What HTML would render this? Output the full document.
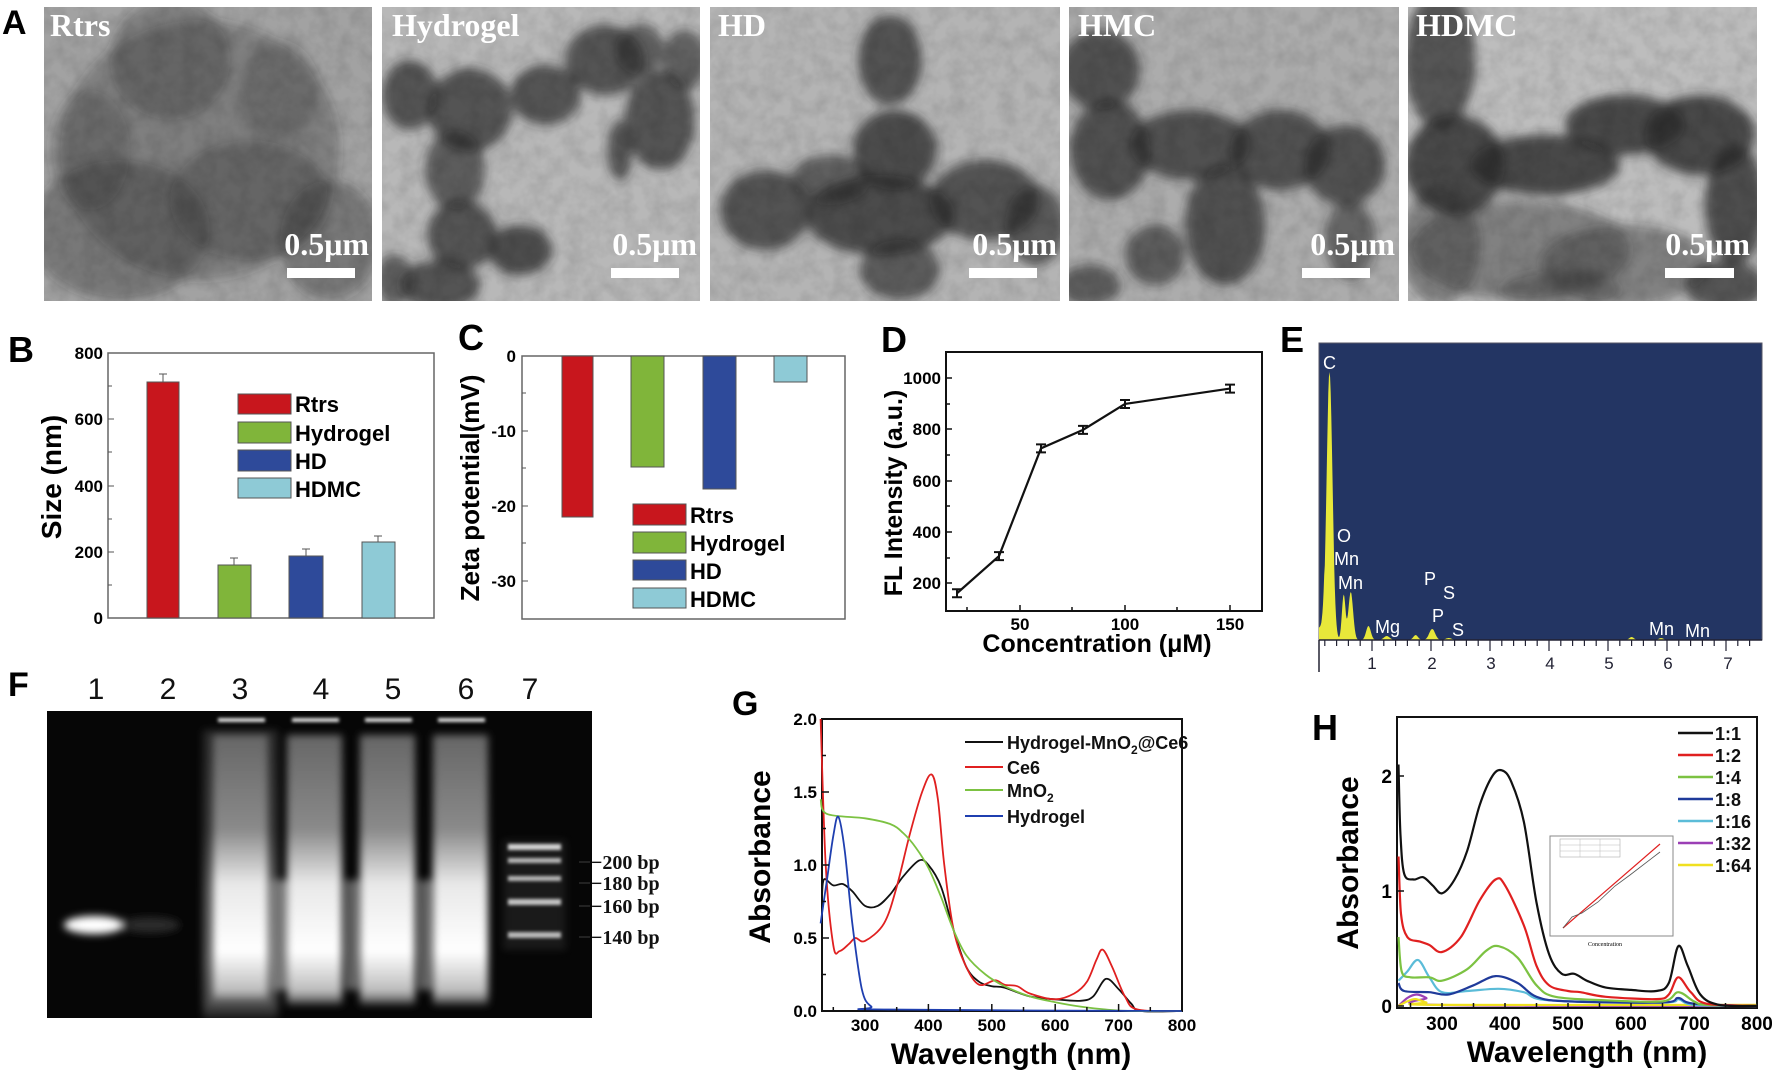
<!DOCTYPE html>
<html><head><meta charset="utf-8">
<style>
html,body{margin:0;padding:0;background:#fff;}
svg{display:block;}
.b{font-family:"Liberation Sans",sans-serif;font-weight:bold;}
.n{font-family:"Liberation Sans Narrow","Liberation Sans",sans-serif;font-weight:bold;}
.s{font-family:"Liberation Serif",serif;font-weight:bold;}
</style></head>
<body>
<svg id="c" width="1772" height="1075" viewBox="0 0 1772 1075" xmlns="http://www.w3.org/2000/svg">
<defs>
<filter id="bl" x="-20%" y="-20%" width="140%" height="140%"><feGaussianBlur stdDeviation="5"/></filter>
<filter id="bl2"><feGaussianBlur stdDeviation="4"/></filter>
<filter id="bl1"><feGaussianBlur stdDeviation="1.5"/></filter>
<filter id="noise" x="0" y="0" width="100%" height="100%">
<feTurbulence type="fractalNoise" baseFrequency="0.06" numOctaves="3" seed="4"/>
<feColorMatrix type="matrix" values="0 0 0 0 0  0 0 0 0 0  0 0 0 0 0  0 0 0 0.9 -0.3"/>
</filter>
<clipPath id="cA1"><rect x="44" y="7" width="328" height="294"/></clipPath>
<clipPath id="cA2"><rect x="382" y="7" width="318" height="294"/></clipPath>
<clipPath id="cA3"><rect x="710" y="7" width="350" height="294"/></clipPath>
<clipPath id="cA4"><rect x="1069" y="7" width="330" height="294"/></clipPath>
<clipPath id="cA5"><rect x="1408" y="7" width="349" height="294"/></clipPath>
<clipPath id="cGel"><rect x="47" y="711" width="545" height="307"/></clipPath>
<linearGradient id="lane" x1="0" y1="0" x2="0" y2="1">
<stop offset="0" stop-color="#666"/><stop offset="0.35" stop-color="#8a8a8a"/>
<stop offset="0.55" stop-color="#e8e8e8"/><stop offset="0.8" stop-color="#fff"/>
<stop offset="0.95" stop-color="#bbb"/><stop offset="1" stop-color="#333"/></linearGradient>
</defs>
<rect width="1772" height="1075" fill="#fff"/>
<g id="tem"></g>
<g class="s" fill="#fff" font-size="32">
<text x="50" y="36">Rtrs</text>
<text x="392" y="36">Hydrogel</text>
<text x="718" y="36">HD</text>
<text x="1078" y="36">HMC</text>
<text x="1416" y="36">HDMC</text>
<g text-anchor="end"><text x="369" y="255">0.5μm</text><text x="697" y="255">0.5μm</text><text x="1057" y="255">0.5μm</text><text x="1395" y="255">0.5μm</text><text x="1750" y="255">0.5μm</text></g>
</g>
<g fill="#fff"><rect x="287" y="268" width="68" height="10"/><rect x="611" y="268" width="68" height="10"/><rect x="969" y="268" width="68" height="10"/><rect x="1302" y="268" width="68" height="10"/><rect x="1665" y="268" width="69" height="10"/></g>
<text class="b" x="2" y="34" font-size="34">A</text>

<!-- B -->
<text class="b" x="8" y="362" font-size="36">B</text>
<rect x="108" y="353" width="326" height="265" fill="none" stroke="#666" stroke-width="1.5"/>
<rect x="147" y="382" width="32" height="236" fill="#c8161d" stroke="#555"/>
<rect x="218" y="565" width="33" height="53" fill="#80b53a" stroke="#555"/>
<rect x="289" y="556" width="34" height="62" fill="#2e4a9a" stroke="#555"/>
<rect x="362" y="542" width="33" height="76" fill="#8ecad6" stroke="#555"/>
<g stroke="#555" stroke-width="1"><path d="M163 382V374M159 374H167M234 565V558M230 558H238M306 556V549M302 549H310M378 542V536M374 536H382"/>
<path d="M108 386H112M108 419H114M108 452H112M108 486H114M108 519H112M108 552H114M108 585H112"/></g>
<g class="n" font-size="17" text-anchor="end"><text x="103" y="359">800</text><text x="103" y="425">600</text><text x="103" y="492">400</text><text x="103" y="558">200</text><text x="103" y="624">0</text></g>
<text class="b" font-size="28" transform="translate(61,477) rotate(-90)" text-anchor="middle">Size (nm)</text>
<g stroke="#555"><rect x="238" y="394" width="53" height="20" fill="#c8161d"/><rect x="238" y="422" width="53" height="21" fill="#80b53a"/><rect x="238" y="450" width="53" height="21" fill="#2e4a9a"/><rect x="238" y="478" width="53" height="20" fill="#8ecad6"/></g>
<g class="n" font-size="22"><text x="295" y="412">Rtrs</text><text x="295" y="441">Hydrogel</text><text x="295" y="469">HD</text><text x="295" y="497">HDMC</text></g>

<!-- C -->
<text class="b" x="458" y="350" font-size="36">C</text>
<rect x="522" y="356" width="323" height="263" fill="none" stroke="#666" stroke-width="1.5"/>
<rect x="562" y="356" width="31" height="161" fill="#c8161d" stroke="#555"/>
<rect x="631" y="356" width="33" height="111" fill="#80b53a" stroke="#555"/>
<rect x="703" y="356" width="33" height="133" fill="#2e4a9a" stroke="#555"/>
<rect x="774" y="356" width="33" height="26" fill="#8ecad6" stroke="#555"/>
<g stroke="#555"><path d="M522 393H526M522 431H528M522 468H526M522 506H528M522 543H526M522 581H528"/></g>
<g class="n" font-size="17" text-anchor="end"><text x="516" y="362">0</text><text x="516" y="437">-10</text><text x="516" y="512">-20</text><text x="516" y="587">-30</text></g>
<text class="b" font-size="26" transform="translate(479,488) rotate(-90)" text-anchor="middle">Zeta potential(mV)</text>
<g stroke="#555"><rect x="633" y="504" width="53" height="21" fill="#c8161d"/><rect x="633" y="532" width="53" height="21" fill="#80b53a"/><rect x="633" y="560" width="53" height="20" fill="#2e4a9a"/><rect x="633" y="588" width="53" height="20" fill="#8ecad6"/></g>
<g class="n" font-size="22"><text x="690" y="523">Rtrs</text><text x="690" y="551">Hydrogel</text><text x="690" y="579">HD</text><text x="690" y="607">HDMC</text></g>

<!-- D -->
<text class="b" x="881" y="352" font-size="36">D</text>
<rect x="946" y="352" width="316" height="259" fill="none" stroke="#111" stroke-width="2"/>
<g stroke="#111" stroke-width="1.5"><path d="M946 378H952M946 404H950M946 429H952M946 455H950M946 481H952M946 506H950M946 532H952M946 558H950M946 583H952M1020 611V605M1072 611V607M1125 611V605M1177 611V607M1230 611V605M967 611V607"/></g>
<g class="n" font-size="17" text-anchor="end"><text x="941" y="384">1000</text><text x="941" y="435">800</text><text x="941" y="487">600</text><text x="941" y="538">400</text><text x="941" y="589">200</text></g>
<g class="n" font-size="17" text-anchor="middle"><text x="1020" y="630">50</text><text x="1125" y="630">100</text><text x="1230" y="630">150</text></g>
<text class="b" font-size="25" transform="translate(902,493) rotate(-90)" text-anchor="middle">FL Intensity (a.u.)</text>
<text class="b" font-size="25" x="1097" y="652" text-anchor="middle">Concentration (μM)</text>
<g id="dplot"></g>

<!-- E -->
<text class="b" x="1280" y="352" font-size="36">E</text>
<rect x="1319" y="343" width="443" height="297" fill="#233563" stroke="#556" stroke-width="1"/>
<path id="eds" fill="#e8e83a" d=""/>
<line x1="1319" y1="640" x2="1762" y2="640" stroke="#223" stroke-width="1.5"/>
<line x1="1319" y1="640" x2="1319" y2="672" stroke="#223" stroke-width="1.5"/>
<g id="eticks" stroke="#223" stroke-width="1.2"></g>
<g font-family="Liberation Sans,sans-serif" font-size="17" fill="#223" text-anchor="middle"><text x="1372" y="669">1</text><text x="1432" y="669">2</text><text x="1491" y="669">3</text><text x="1550" y="669">4</text><text x="1609" y="669">5</text><text x="1668" y="669">6</text><text x="1728" y="669">7</text></g>
<g font-family="Liberation Sans,sans-serif" font-size="18" fill="#fff"><text x="1323" y="369">C</text><text x="1337" y="542">O</text><text x="1334" y="565">Mn</text><text x="1338" y="589">Mn</text><text x="1375" y="633">Mg</text><text x="1424" y="585">P</text><text x="1443" y="599">S</text><text x="1432" y="622">P</text><text x="1452" y="636">S</text><text x="1649" y="635">Mn</text><text x="1685" y="637">Mn</text></g>

<!-- F -->
<text class="b" x="8" y="696" font-size="34">F</text>
<g font-family="Liberation Sans,sans-serif" font-size="30" fill="#111" text-anchor="middle"><text x="96" y="699">1</text><text x="168" y="699">2</text><text x="240" y="699">3</text><text x="321" y="699">4</text><text x="393" y="699">5</text><text x="466" y="699">6</text><text x="530" y="699">7</text></g>
<rect x="47" y="711" width="545" height="307" fill="#060606"/>
<g clip-path="url(#cGel)">
<g filter="url(#bl2)">
<rect x="203" y="730" width="75" height="290" fill="url(#lane)" opacity="0.35"/>
<rect x="213" y="735" width="55" height="270" fill="url(#lane)"/>
<rect x="287" y="735" width="55" height="270" fill="url(#lane)"/>
<rect x="360" y="735" width="55" height="270" fill="url(#lane)"/>
<rect x="433" y="735" width="55" height="270" fill="url(#lane)"/>
<rect x="272" y="880" width="14" height="110" fill="#777"/><rect x="346" y="880" width="12" height="110" fill="#666"/><rect x="419" y="880" width="12" height="110" fill="#666"/>
<ellipse cx="94" cy="925" rx="30" ry="9" fill="#fff"/>
<ellipse cx="150" cy="925" rx="30" ry="8" fill="#2a2a2a"/>
</g>
<g fill="#ddd" filter="url(#bl1)"><rect x="218" y="718" width="47" height="4"/><rect x="292" y="718" width="47" height="4"/><rect x="365" y="718" width="47" height="4"/><rect x="438" y="718" width="47" height="4"/>
<rect x="508" y="844" width="53" height="6" fill="#fff"/><rect x="508" y="858" width="53" height="5"/><rect x="508" y="876" width="53" height="5"/><rect x="508" y="899" width="53" height="6" fill="#eee"/><rect x="508" y="932" width="53" height="6"/></g>
<rect x="503" y="840" width="63" height="110" fill="#555" opacity="0.25" filter="url(#bl2)"/>
</g>
<g stroke="#222" stroke-width="2"><path d="M579 862H590M579 883H590M579 906H590M579 937H590"/></g>
<g class="s" font-size="20" fill="#111"><text x="591" y="869">−200 bp</text><text x="591" y="890">−180 bp</text><text x="591" y="913">−160 bp</text><text x="591" y="944">−140 bp</text></g>

<!-- G -->
<text class="b" x="732" y="715" font-size="34">G</text>
<rect x="822" y="719" width="360" height="292" fill="none" stroke="#111" stroke-width="2"/>
<g id="gplot"></g>
<g class="n" font-size="17" text-anchor="end"><text x="817" y="725">2.0</text><text x="817" y="798">1.5</text><text x="817" y="871">1.0</text><text x="817" y="944">0.5</text><text x="817" y="1017">0.0</text></g>
<g id="gxl" class="n" font-size="17" text-anchor="middle"></g>
<text class="b" font-size="30" transform="translate(770,857) rotate(-90)" text-anchor="middle">Absorbance</text>
<text class="b" font-size="30" x="1011" y="1064" text-anchor="middle">Wavelength (nm)</text>
<g stroke-width="2"><line x1="965" y1="742" x2="1003" y2="742" stroke="#111"/><line x1="965" y1="767" x2="1003" y2="767" stroke="#e02020"/><line x1="965" y1="790" x2="1003" y2="790" stroke="#7cc242"/><line x1="965" y1="816" x2="1003" y2="816" stroke="#1f3fb0"/></g>
<g class="n" font-size="18" fill="#111"><text x="1007" y="749">Hydrogel-MnO<tspan font-size="12" dy="5">2</tspan><tspan dy="-5">@Ce6</tspan></text><text x="1007" y="774">Ce6</text><text x="1007" y="797">MnO<tspan font-size="12" dy="5">2</tspan></text><text x="1007" y="823">Hydrogel</text></g>

<!-- H -->
<text class="b" x="1312" y="740" font-size="36">H</text>
<rect x="1397" y="717" width="360" height="291" fill="none" stroke="#111" stroke-width="2"/>
<g id="hplot"></g>
<g class="n" font-size="19" text-anchor="end"><text x="1392" y="783">2</text><text x="1392" y="898">1</text><text x="1392" y="1013">0</text></g>
<g id="hxl" class="n" font-size="19" text-anchor="middle"></g>
<text class="b" font-size="30" transform="translate(1358,863) rotate(-90)" text-anchor="middle">Absorbance</text>
<text class="b" font-size="30" x="1587" y="1062" text-anchor="middle">Wavelength (nm)</text>
<g stroke-width="2.5"><line x1="1678" y1="733" x2="1713" y2="733" stroke="#111"/><line x1="1678" y1="755" x2="1713" y2="755" stroke="#e02020"/><line x1="1678" y1="777" x2="1713" y2="777" stroke="#7cc242"/><line x1="1678" y1="799" x2="1713" y2="799" stroke="#1f3a9a"/><line x1="1678" y1="821" x2="1713" y2="821" stroke="#5bbcd8"/><line x1="1678" y1="843" x2="1713" y2="843" stroke="#9b3fb5"/><line x1="1678" y1="865" x2="1713" y2="865" stroke="#f0e020"/></g>
<g class="n" font-size="18" fill="#111"><text x="1715" y="740">1:1</text><text x="1715" y="762">1:2</text><text x="1715" y="784">1:4</text><text x="1715" y="806">1:8</text><text x="1715" y="828">1:16</text><text x="1715" y="850">1:32</text><text x="1715" y="872">1:64</text></g>
<rect x="1550" y="836" width="123" height="100" fill="#fff" stroke="#888"/>
<rect x="1560" y="839" width="60" height="18" fill="none" stroke="#aaa" stroke-width="0.6"/>
<g stroke="#bbb" stroke-width="0.5"><path d="M1560 845H1620M1560 851H1620M1580 839V857M1600 839V857"/></g>
<line x1="1563" y1="928" x2="1660" y2="844" stroke="#e02020" stroke-width="1.2"/>
<polyline points="1563,928 1572,917 1582,913 1598,902 1615,886 1630,875 1660,852" fill="none" stroke="#555" stroke-width="0.8"/>
<text x="1605" y="946" font-family="Liberation Serif,serif" font-size="6" text-anchor="middle">Concentration</text>
</svg>
<script>
(function(){
var NS="http://www.w3.org/2000/svg";
function el(t,a,p){var e=document.createElementNS(NS,t);for(var k in a)e.setAttribute(k,a[k]);(p||document.getElementById('c')).appendChild(e);return e;}
function cr(pts){var d="M"+pts[0][0].toFixed(1)+" "+pts[0][1].toFixed(1);for(var i=0;i<pts.length-1;i++){var p0=pts[i-1]||pts[i],p1=pts[i],p2=pts[i+1],p3=pts[i+2]||p2;var c1x=p1[0]+(p2[0]-p0[0])/6,c1y=p1[1]+(p2[1]-p0[1])/6,c2x=p2[0]-(p3[0]-p1[0])/6,c2y=p2[1]-(p3[1]-p1[1])/6;d+=" C"+c1x.toFixed(1)+" "+c1y.toFixed(1)+" "+c2x.toFixed(1)+" "+c2y.toFixed(1)+" "+p2[0].toFixed(1)+" "+p2[1].toFixed(1);}return d;}
var tem=document.getElementById('tem');
var panels=[
 ["cA1",44,372,"#a2a2a2",[[200,150,140,130,.3],[120,230,90,70,.35],[330,240,50,60,.35],[250,200,80,60,.3],[170,60,60,60,.3],[90,150,40,60,.25],[280,90,40,50,.2]]],
 ["cA2",382,700,"#b8b8b8",[[410,95,28,35,.7],[470,110,42,42,.7],[545,95,35,30,.7],[605,60,40,35,.7],[660,120,35,50,.7],[685,60,22,30,.6],[455,170,30,40,.65],[462,235,35,35,.7],[520,250,32,25,.75],[440,285,40,25,.7],[395,280,20,25,.6],[640,50,25,25,.6],[620,150,12,30,.7]]],
 ["cA3",710,1060,"#b4b4b4",[[890,60,32,45,.7],[895,150,42,40,.75],[880,215,75,40,.75],[765,210,45,40,.7],[985,200,55,40,.7],[1035,225,30,40,.65],[900,270,40,30,.65],[830,180,40,25,.6]]],
 ["cA4",1069,1399,"#acacac",[[1100,70,40,40,.7],[1110,150,40,50,.7],[1190,145,60,35,.7],[1280,150,50,40,.7],[1345,165,40,40,.7],[1225,225,40,60,.7],[1155,255,30,30,.6],[1090,285,30,20,.6],[1350,240,25,40,.55]]],
 ["cA5",1408,1757,"#bdbdbd",[[1440,60,35,70,.7],[1455,165,50,50,.8],[1545,165,75,30,.8],[1625,125,60,30,.8],[1700,135,55,40,.8],[1735,205,30,60,.75],[1725,285,40,25,.7],[1520,250,110,50,.4],[1625,265,85,40,.4],[1440,245,40,60,.4],[1560,290,60,20,.35]]]
];
panels.forEach(function(p){
 var g=el('g',{'clip-path':'url(#'+p[0]+')'},tem);
 el('rect',{x:p[1],y:7,width:p[2]-p[1],height:294,fill:p[3]},g);
 var gb=el('g',{filter:'url(#bl)'},g);
 p[4].forEach(function(b){el('ellipse',{cx:b[0],cy:b[1],rx:b[2],ry:b[3],fill:'#2a2a2a',opacity:b[4]},gb);});
 el('rect',{x:p[1],y:7,width:p[2]-p[1],height:294,filter:'url(#noise)',opacity:0.2},g);
});
var dg=document.getElementById('dplot');
var dp=[[20,160],[40,305],[60,725],[80,797],[100,898],[150,958]];
var pts=dp.map(function(q){return [1020+(q[0]-50)*2.1,583-(q[1]-200)*0.2565];});
el('polyline',{points:pts.map(function(q){return q.join(',');}).join(' '),fill:'none',stroke:'#111','stroke-width':2.2},dg);
pts.forEach(function(q){el('path',{d:'M'+(q[0]-5)+' '+(q[1]-4)+'h10M'+(q[0]-5)+' '+(q[1]+4)+'h10M'+q[0]+' '+(q[1]-4)+'v8',stroke:'#111','stroke-width':2},dg);});
function ek(x){return 1313+x*59;}
var peaks=[[0.28,268,0.05],[0.52,45,0.03],[0.64,48,0.04],[0.94,14,0.04],[1.25,4,0.05],[1.74,5,0.04],[2.02,11,0.05],[2.3,2,0.05],[5.4,3,0.04],[5.9,2,0.04]];
var d="M1319 640";for(var x=0.1;x<=7.55;x+=0.01){var h=0;peaks.forEach(function(p){h+=p[1]*Math.exp(-Math.pow((x-p[0])/p[2],2)/2);});if(x<0.2)h+=12;d+=" L"+ek(x).toFixed(1)+" "+(640-h).toFixed(1);}d+=" L1762 640 Z";
document.getElementById('eds').setAttribute('d',d);
var et=document.getElementById('eticks');for(var k=0.2;k<7.6;k+=0.2){var xx=ek(k);var big=Math.abs(k-Math.round(k))<0.01;el('line',{x1:xx,y1:640,x2:xx,y2:big?651:646},et);}
var gg=document.getElementById('gplot');
function gx(w){return 865+(w-300)*0.634;} function gy(a){return 1011-a*146;}
var G={
"#111":[[232,0.75],[235,0.9],[250,0.86],[265,0.87],[280,0.82],[300,0.72],[320,0.72],[340,0.8],[360,0.92],[385,1.03],[400,1.0],[420,0.85],[440,0.55],[460,0.3],[480,0.2],[500,0.17],[520,0.16],[560,0.1],[600,0.08],[640,0.07],[660,0.1],[680,0.22],[700,0.15],[720,0.05],[735,0.0],[800,0]],
"#e02020":[[230,2.0],[238,1.0],[250,0.45],[260,0.41],[275,0.46],[285,0.5],[300,0.48],[330,0.6],[350,0.85],[370,1.2],[390,1.5],[405,1.62],[415,1.45],[425,1.0],[440,0.55],[460,0.3],[480,0.18],[505,0.21],[520,0.18],[540,0.17],[560,0.12],[600,0.08],[630,0.12],[650,0.2],[665,0.35],[675,0.42],[690,0.3],[710,0.1],[730,0.01],[800,0]],
"#7cc242":[[230,1.45],[240,1.35],[300,1.32],[340,1.28],[360,1.22],[380,1.12],[400,0.98],[420,0.78],[440,0.55],[460,0.38],[490,0.25],[520,0.17],[560,0.1],[600,0.06],[640,0.03],[680,0.01],[720,0],[800,0]],
"#1f3fb0":[[230,0.6],[240,0.9],[250,1.2],[258,1.33],[268,1.1],[280,0.6],[295,0.15],[310,0.03],[330,0.01],[800,0]]};
for(var c in G){el('path',{d:cr(G[c].map(function(q){return [gx(q[0]),gy(q[1])];})),fill:'none',stroke:c,'stroke-width':1.8},gg);}
for(var w=250;w<=800;w+=50){el('line',{x1:gx(w),y1:1011,x2:gx(w),y2:w%100?1007:1004,stroke:'#111','stroke-width':1.5},gg);}
[0.25,0.75,1.25,1.75].forEach(function(a){el('line',{x1:822,y1:gy(a),x2:826,y2:gy(a),stroke:'#111','stroke-width':1.5},gg);});
[0.5,1,1.5].forEach(function(a){el('line',{x1:822,y1:gy(a),x2:829,y2:gy(a),stroke:'#111','stroke-width':1.5},gg);});
var gxl=document.getElementById('gxl');for(var w=300;w<=800;w+=100){var t=el('text',{x:gx(w),y:1031},gxl);t.textContent=w;}
var hg=document.getElementById('hplot');
function hx(w){return 1442+(w-300)*0.63;} function hy(a){return 1006-a*115;}
var H=[
["#9b3fb5",[[231,0.0],[245,0.07],[260,0.1],[275,0.07],[290,0.01],[800,0]]],
["#f0e020",[[231,0.0],[245,0.04],[258,0.06],[275,0.03],[290,0.01],[800,0.01]]],
["#5bbcd8",[[231,0.22],[245,0.3],[262,0.4],[280,0.25],[300,0.12],[340,0.13],[390,0.15],[430,0.12],[470,0.05],[650,0.03],[675,0.06],[700,0.01],[800,0]]],
["#1f3a9a",[[231,0.2],[240,0.13],[280,0.12],[310,0.1],[350,0.18],[385,0.26],[420,0.2],[450,0.08],[500,0.04],[650,0.03],[675,0.07],[700,0.02],[800,0]]],
["#7cc242",[[231,0.6],[236,0.3],[250,0.25],[280,0.25],[300,0.22],[340,0.32],[370,0.48],[390,0.52],[420,0.42],[450,0.18],[480,0.08],[560,0.05],[650,0.04],[675,0.12],[700,0.04],[720,0.01],[800,0]]],
["#e02020",[[231,1.3],[235,0.8],[245,0.6],[265,0.56],[280,0.53],[300,0.47],[330,0.6],[360,0.92],[385,1.1],[400,1.05],[430,0.7],[450,0.35],[470,0.18],[500,0.13],[520,0.12],[560,0.08],[640,0.06],[660,0.1],[675,0.25],[695,0.12],[720,0.02],[800,0]]],
["#111",[[231,2.1],[234,1.5],[240,1.15],[255,1.1],[270,1.12],[285,1.05],[300,0.98],[320,1.1],[340,1.35],[360,1.75],[380,2.0],[395,2.05],[410,1.95],[430,1.6],[450,0.9],[470,0.45],[490,0.28],[510,0.28],[530,0.22],[560,0.16],[600,0.14],[640,0.13],[660,0.2],[675,0.52],[690,0.35],[710,0.1],[740,0.01],[800,0]]]];
H.forEach(function(s){el('path',{d:cr(s[1].map(function(q){return [hx(q[0]),hy(q[1])];})),fill:'none',stroke:s[0],'stroke-width':2.2},hg);});
[0,1,2].forEach(function(a){el('line',{x1:1397,y1:hy(a),x2:1404,y2:hy(a),stroke:'#111','stroke-width':1.5},hg);});
for(var w=250;w<=800;w+=50){el('line',{x1:hx(w),y1:1008,x2:hx(w),y2:1003,stroke:'#111','stroke-width':1.5},hg);}
var hxl=document.getElementById('hxl');for(var w=300;w<=800;w+=100){var t=el('text',{x:hx(w),y:1030},hxl);t.textContent=w;}
})();
</script>
</body></html>
